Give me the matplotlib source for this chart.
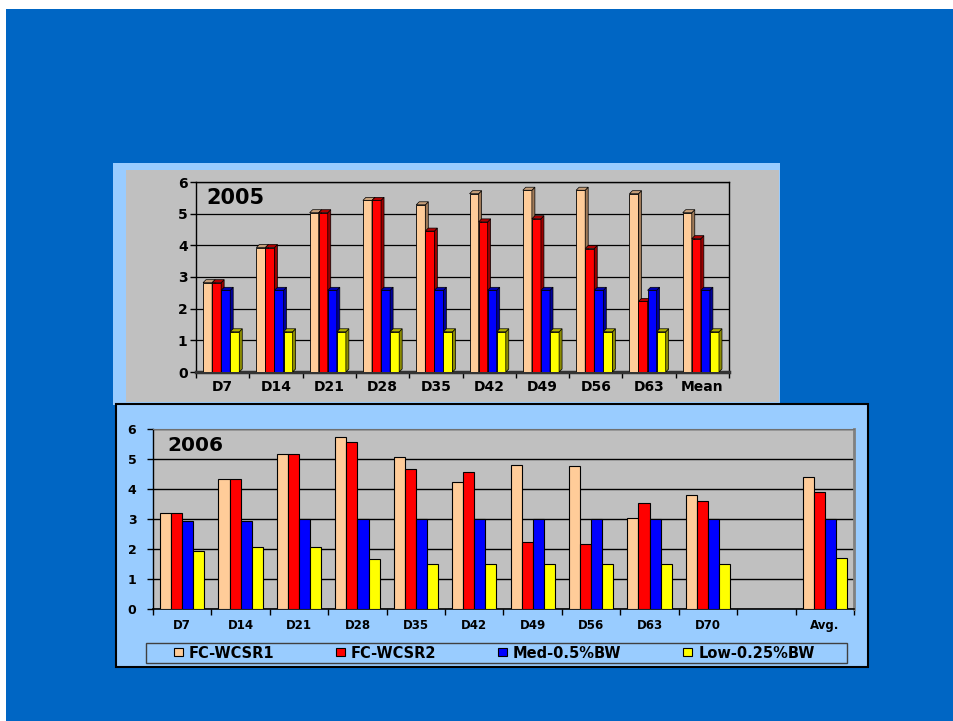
import matplotlib
matplotlib.use("Agg")
import matplotlib.pyplot as plt
from matplotlib.patches import Rectangle, Polygon, Patch
import numpy as np

plt.rcParams['font.family'] = ['DejaVu Sans']
plt.rcParams['font.weight'] = 'bold'

# --- data ---
cats_2005 = ['D7', 'D14', 'D21', 'D28', 'D35', 'D42', 'D49', 'D56', 'D63', 'Mean']
fc1_2005 = [2.82, 3.93, 5.03, 5.42, 5.28, 5.63, 5.74, 5.74, 5.63, 5.03]
fc2_2005 = [2.82, 3.93, 5.03, 5.42, 4.45, 4.74, 4.84, 3.90, 2.23, 4.21]
med_2005 = [2.58, 2.58, 2.58, 2.58, 2.58, 2.58, 2.58, 2.58, 2.58, 2.58]
low_2005 = [1.27, 1.27, 1.27, 1.27, 1.27, 1.27, 1.27, 1.27, 1.27, 1.27]

cats_2006 = ['D7', 'D14', 'D21', 'D28', 'D35', 'D42', 'D49', 'D56', 'D63', 'D70', '', 'Avg.']
fc1_2006 = [3.20, 4.34, 5.18, 5.74, 5.07, 4.24, 4.81, 4.76, 3.03, 3.79, None, 4.40]
fc2_2006 = [3.20, 4.34, 5.18, 5.58, 4.68, 4.58, 2.23, 2.18, 3.53, 3.61, None, 3.90]
med_2006 = [2.93, 2.93, 3.00, 3.00, 3.00, 3.00, 3.00, 3.00, 3.00, 3.00, None, 3.00]
low_2006 = [1.94, 2.07, 2.07, 1.67, 1.50, 1.50, 1.50, 1.50, 1.50, 1.50, None, 1.69]

series_names = ['FC-WCSR1', 'FC-WCSR2', 'Med-0.5%BW', 'Low-0.25%BW']
colors = ['#FFCC99', '#FF0000', '#0000FF', '#FFFF00']
side_colors = ['#A07A58', '#990000', '#000099', '#8C8C00']
top_colors = ['#C8A07A', '#B00000', '#0000B0', '#B0B000']

W, H = 954, 721
BLUE = '#0066C4'
LIGHT = '#99CCFF'
GRAY = '#C0C0C0'


def fr(x0, y0, x1, y1):
    # pixel box (top-left origin) -> figure fraction rect
    return [x0 / W, 1 - y1 / H, (x1 - x0) / W, (y1 - y0) / H]


def box(x0, y0, x1, y1, z, **kw):
    r = fr(x0, y0, x1, y1)
    fig.patches.append(Rectangle((r[0], r[1]), r[2], r[3], transform=fig.transFigure,
                                 zorder=z, **kw))


fig = plt.figure(figsize=(W / 100, H / 100), dpi=100, facecolor='white')

# background and panels (kept under the axes)
box(6, 9, 954, 721, -10, facecolor=BLUE, edgecolor='none')
box(113, 163, 780, 405, -9, facecolor=LIGHT, edgecolor='none')
box(126, 170, 779, 402, -8, facecolor=GRAY, edgecolor='none')
box(116, 404, 868, 667, -7, facecolor=LIGHT, edgecolor='black', linewidth=1.5)
box(146, 643, 847, 663, -6, facecolor=LIGHT, edgecolor='#404040', linewidth=1.0)

# ---------------- 2005 (3D-look bars) ----------------
ax1 = fig.add_axes(fr(196, 182, 729, 372))
ax1.set_facecolor(GRAY)
ax1.set_xlim(0, len(cats_2005))
ax1.set_ylim(0, 6)
bw = 0.17
dx, dy = 0.056, 0.095
x = np.arange(len(cats_2005))
start = 0.5 - 2 * bw - dx / 2
for i, vals in enumerate([fc1_2005, fc2_2005, med_2005, low_2005]):
    z = 3 + i
    xl = x + start + i * bw
    ax1.bar(xl, vals, width=bw, align='edge', color=colors[i], edgecolor='black',
            linewidth=0.6, zorder=z)
    for xx, h in zip(xl, vals):
        side = [(xx + bw, 0), (xx + bw + dx, dy), (xx + bw + dx, h + dy), (xx + bw, h)]
        top = [(xx, h), (xx + dx, h + dy), (xx + bw + dx, h + dy), (xx + bw, h)]
        ax1.add_patch(Polygon(side, closed=True, facecolor=side_colors[i],
                              edgecolor='black', linewidth=0.5, zorder=z))
        ax1.add_patch(Polygon(top, closed=True, facecolor=top_colors[i],
                              edgecolor='black', linewidth=0.5, zorder=z))
ax1.set_yticks(range(7))
ax1.yaxis.grid(True, color='black', linewidth=0.9, zorder=1)
ax1.set_axisbelow(True)
ax1.set_xticks(x + 0.5)
ax1.set_xticklabels(cats_2005, fontsize=10, fontweight='bold')
ax1.set_xticks(np.arange(len(cats_2005) + 1), minor=True)
ax1.tick_params(axis='x', which='major', length=0, pad=6)
ax1.tick_params(axis='x', which='minor', length=4, width=1, direction='out')
ax1.tick_params(axis='y', length=4, width=1, labelsize=10, pad=2)
for lab in ax1.get_yticklabels():
    lab.set_fontweight('bold')
for s in ['top', 'right', 'left']:
    ax1.spines[s].set_color('black')
    ax1.spines[s].set_linewidth(1.0)
ax1.spines['bottom'].set_color('#333333')
ax1.spines['bottom'].set_linewidth(2.5)
ax1.text(0.02, 0.97, '2005', transform=ax1.transAxes, fontsize=15, fontweight='bold',
         va='top', ha='left', zorder=10)

# ---------------- 2006 (flat bars) ----------------
ax2 = fig.add_axes(fr(153, 429, 854, 609))
ax2.set_facecolor(GRAY)
ax2.set_xlim(0, len(cats_2006))
ax2.set_ylim(0, 6)
bw2 = 0.19
x2 = np.arange(len(cats_2006))
for i, vals in enumerate([fc1_2006, fc2_2006, med_2006, low_2006]):
    xs = [xx + 0.5 - 2 * bw2 + i * bw2 for xx, v in zip(x2, vals) if v is not None]
    hs = [v for v in vals if v is not None]
    ax2.bar(xs, hs, width=bw2, align='edge', color=colors[i], edgecolor='black',
            linewidth=0.8, zorder=3)
ax2.set_yticks(range(7))
ax2.yaxis.grid(True, color='black', linewidth=1.0, zorder=1)
ax2.set_axisbelow(True)
ax2.set_xticks(x2 + 0.5)
ax2.set_xticklabels(cats_2006, fontsize=8.5, fontweight='bold')
ax2.set_xticks(np.arange(len(cats_2006) + 1), minor=True)
ax2.tick_params(axis='x', which='major', length=0, pad=7)
ax2.tick_params(axis='x', which='minor', length=4, width=1, direction='out')
ax2.tick_params(axis='y', length=4, width=1, labelsize=9, pad=8)
for lab in ax2.get_yticklabels():
    lab.set_fontweight('bold')
ax2.spines['left'].set_color('black')
ax2.spines['bottom'].set_color('black')
ax2.spines['left'].set_linewidth(1.0)
ax2.spines['bottom'].set_linewidth(1.2)
ax2.spines['top'].set_color('#707070')
ax2.spines['right'].set_color('#808080')
ax2.spines['right'].set_linewidth(2)
ax2.text(0.02, 0.96, '2006', transform=ax2.transAxes, fontsize=14.5, fontweight='bold',
         va='top', ha='left', zorder=10)

# legend (frame drawn above as a panel box)
handles = [Patch(facecolor=c, edgecolor='black', linewidth=0.8) for c in colors]
leg = fig.legend(handles, series_names, ncol=4, loc='center',
                 bbox_to_anchor=(494 / W, 1 - 653 / H), frameon=False,
                 handlelength=0.65, handleheight=0.5, handletextpad=0.4,
                 columnspacing=4.2, borderpad=0, borderaxespad=0,
                 prop={'size': 10.5, 'weight': 'bold'})

fig.savefig('out.png', dpi=100, facecolor=fig.get_facecolor())
